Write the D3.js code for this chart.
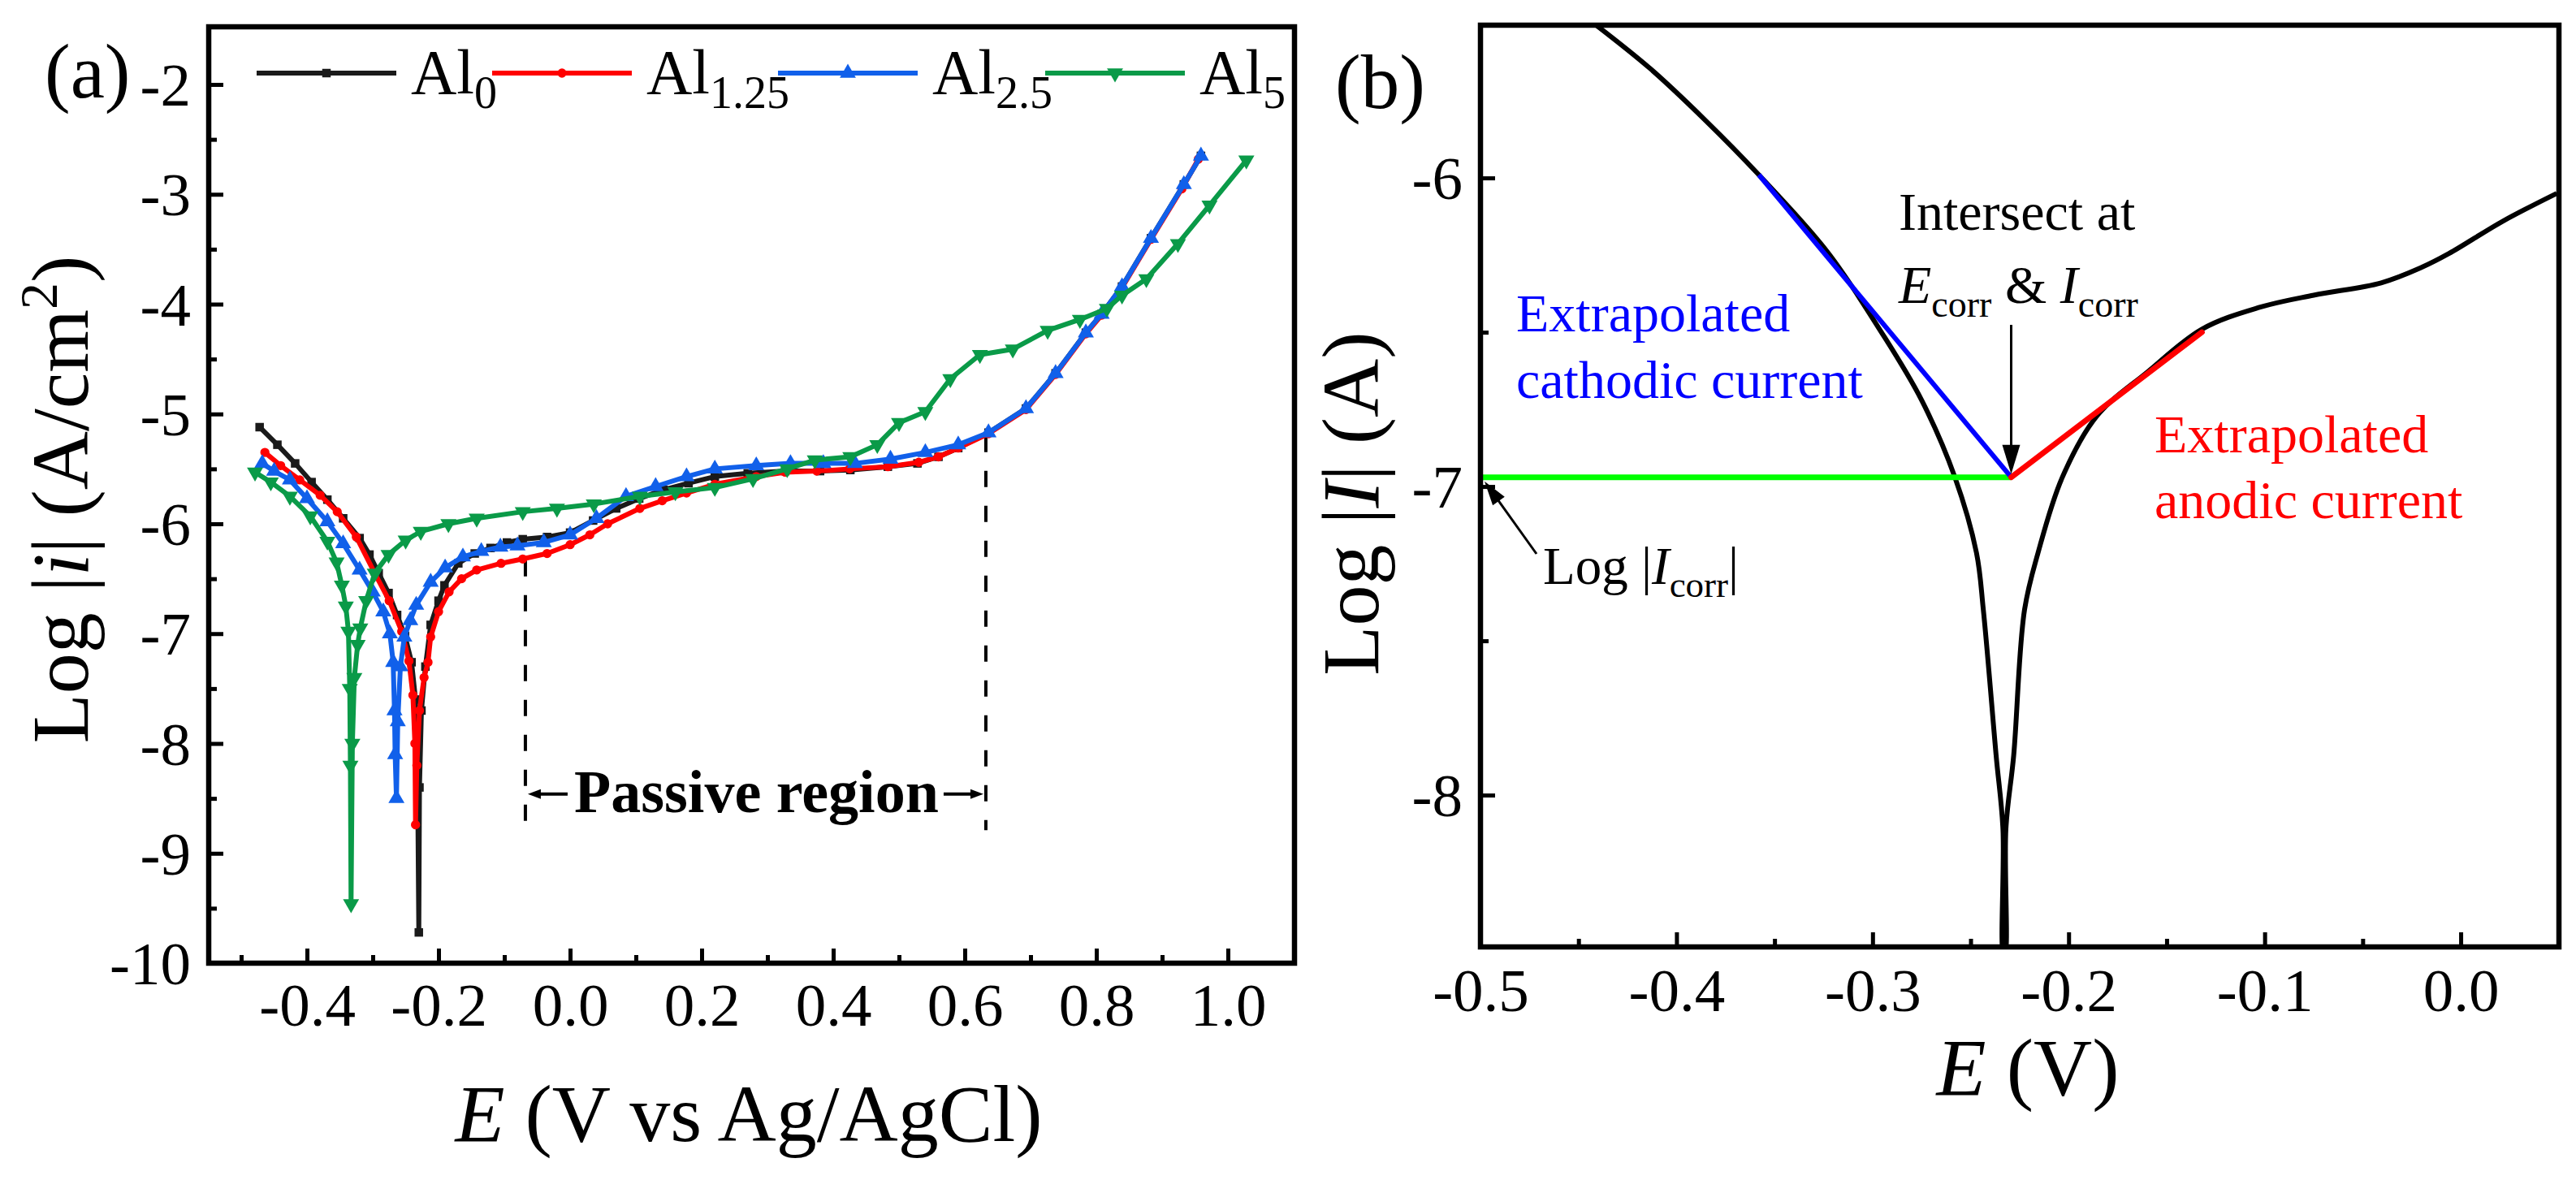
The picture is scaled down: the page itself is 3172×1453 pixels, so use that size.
<!DOCTYPE html>
<html><head><meta charset="utf-8">
<script src="https://cdn.jsdelivr.net/npm/d3@7"></script>
<style>
html,body{margin:0;padding:0;background:#fff;}
svg{display:block;}
text{font-family:"Liberation Serif","Times New Roman",serif;fill:#000;}
</style>
</head><body>
<svg id="c" width="3172" height="1453"></svg>
<script>
// ---------------- Panel (a) data: E (V vs Ag/AgCl) and Log|i| ----------------
const al0E    = [-0.472,-0.445,-0.418,-0.393,-0.369,-0.345,-0.320,-0.305,-0.291,-0.276,-0.263,-0.251,-0.241,-0.235,-0.232,-0.230,-0.229,-0.226,-0.220,-0.212,-0.200,-0.191,-0.170,-0.145,-0.121,-0.096,-0.072,-0.035,0.000,0.035,0.070,0.105,0.142,0.180,0.220,0.270,0.327,0.380,0.426,0.483,0.528,0.560,0.590,0.636,0.693,0.738,0.784,0.808,0.839,0.883,0.933,0.959];
const al0LogI = [-5.12,-5.28,-5.45,-5.62,-5.78,-5.95,-6.13,-6.28,-6.45,-6.63,-6.83,-7.02,-7.26,-7.60,-8.20,-9.72,-8.40,-7.70,-7.30,-6.92,-6.70,-6.56,-6.36,-6.27,-6.22,-6.17,-6.14,-6.12,-6.08,-5.97,-5.86,-5.77,-5.69,-5.63,-5.57,-5.54,-5.52,-5.52,-5.51,-5.48,-5.45,-5.39,-5.31,-5.17,-4.95,-4.63,-4.26,-4.09,-3.84,-3.40,-2.91,-2.65];

const al125E    = [-0.464,-0.440,-0.411,-0.380,-0.354,-0.325,-0.297,-0.275,-0.256,-0.245,-0.239,-0.236,-0.235,-0.233,-0.229,-0.222,-0.216,-0.212,-0.200,-0.184,-0.165,-0.142,-0.105,-0.072,-0.035,0.000,0.030,0.057,0.106,0.140,0.177,0.220,0.283,0.327,0.375,0.425,0.483,0.530,0.560,0.590,0.636,0.693,0.738,0.784,0.808,0.839,0.883,0.930,0.955];
const al125LogI = [-5.35,-5.47,-5.60,-5.74,-5.89,-6.12,-6.45,-6.70,-6.98,-7.25,-7.56,-8.00,-8.74,-8.20,-7.70,-7.40,-7.26,-7.03,-6.80,-6.62,-6.50,-6.42,-6.36,-6.32,-6.27,-6.19,-6.10,-6.00,-5.86,-5.79,-5.72,-5.64,-5.57,-5.53,-5.52,-5.50,-5.48,-5.44,-5.39,-5.31,-5.18,-4.96,-4.64,-4.27,-4.10,-3.85,-3.41,-2.95,-2.68];

const al25E    = [-0.468,-0.450,-0.426,-0.400,-0.369,-0.345,-0.320,-0.300,-0.284,-0.274,-0.269,-0.267,-0.266,-0.264,-0.262,-0.258,-0.252,-0.243,-0.234,-0.212,-0.190,-0.163,-0.135,-0.106,-0.080,-0.040,0.000,0.040,0.085,0.130,0.177,0.220,0.283,0.335,0.385,0.433,0.487,0.540,0.590,0.636,0.693,0.738,0.784,0.808,0.839,0.883,0.933,0.959];
const al25LogI = [-5.45,-5.52,-5.60,-5.77,-5.98,-6.18,-6.42,-6.62,-6.80,-7.00,-7.26,-7.70,-8.10,-8.50,-7.80,-7.30,-7.03,-6.88,-6.74,-6.53,-6.40,-6.30,-6.25,-6.21,-6.20,-6.17,-6.10,-5.95,-5.75,-5.66,-5.57,-5.50,-5.47,-5.45,-5.45,-5.45,-5.41,-5.35,-5.28,-5.17,-4.95,-4.63,-4.26,-4.09,-3.84,-3.40,-2.91,-2.65];

const al5E    = [-0.479,-0.455,-0.426,-0.395,-0.369,-0.355,-0.347,-0.341,-0.337,-0.335,-0.334,-0.333,-0.331,-0.328,-0.323,-0.319,-0.310,-0.297,-0.276,-0.250,-0.227,-0.185,-0.142,-0.072,-0.020,0.036,0.106,0.160,0.220,0.278,0.330,0.372,0.426,0.467,0.500,0.540,0.578,0.623,0.673,0.726,0.775,0.816,0.839,0.876,0.924,0.972,1.028];
const al5LogI = [-5.53,-5.62,-5.75,-5.93,-6.16,-6.35,-6.56,-6.75,-6.98,-7.50,-8.20,-9.46,-8.00,-7.40,-7.10,-6.95,-6.70,-6.45,-6.28,-6.15,-6.07,-6.00,-5.95,-5.89,-5.86,-5.82,-5.75,-5.71,-5.67,-5.59,-5.50,-5.42,-5.39,-5.28,-5.08,-4.98,-4.68,-4.46,-4.41,-4.24,-4.14,-4.04,-3.92,-3.77,-3.45,-3.10,-2.69];

const seriesNames = ["0", "1.25", "2.5", "5"];
const passiveE = [-0.068, 0.632];          // dashed boundary potentials
const passiveTopLogI = [-6.33, -5.20];     // where dashed lines meet the curves
const passiveBottomLogI = -8.79;
const passiveArrowLogI = -8.46;

// axis ticks (a)
const aXMajor = [-0.4,-0.2,0.0,0.2,0.4,0.6,0.8,1.0];
const aXMinor = [-0.5,-0.3,-0.1,0.1,0.3,0.5,0.7,0.9];
const aYMajor = [-2,-3,-4,-5,-6,-7,-8,-9,-10];
const aYMinor = [-2.5,-3.5,-4.5,-5.5,-6.5,-7.5,-8.5,-9.5];

// ---------------- Panel (b) data ----------------
const bE    = [-0.442,-0.413,-0.385,-0.358,-0.323,-0.2955,-0.275,-0.258,-0.247,-0.2435,-0.237,-0.2335,-0.2332,-0.2325,-0.232,-0.228,-0.2225,-0.2156,-0.2032,-0.1854,-0.160,-0.132,-0.103,-0.075,-0.0406,-0.020,-0.006,0.0215,0.049];
const bLogI = [-5.50,-5.648,-5.815,-5.99,-6.24,-6.50,-6.72,-6.97,-7.215,-7.40,-7.87,-8.11,-8.52,-8.52,-8.11,-7.87,-7.40,-7.215,-6.97,-6.77,-6.63,-6.49,-6.42,-6.38,-6.34,-6.29,-6.245,-6.14,-6.05];
const ecorr = -0.2293;
const logIcorr = -6.97;
const cathodicFitStart = [-0.358, -5.99];
const anodicFitEnd = [-0.132, -6.50];
const bXMajor = [-0.5,-0.4,-0.3,-0.2,-0.1,0.0];
const bXMinor = [-0.45,-0.35,-0.25,-0.15,-0.05];
const bYMajor = [-6,-7,-8];
const bYMinor = [-6.5,-7.5];

// ---------------- drawing ----------------
const svg = d3.select("#c");
svg.append("rect").attr("width",3172).attr("height",1453).attr("fill","#fff");
const defs = svg.append("defs");

const xA = d3.scaleLinear().domain([-0.5494, 1.1012]).range([257, 1594]);
const yA = d3.scaleLinear().domain([-1.475, -10]).range([33, 1186]);
const xB = d3.scaleLinear().domain([-0.5, 0.0501]).range([1823, 3151]);
const yB = d3.scaleLinear().domain([-5.505, -8.492]).range([31, 1166]);

function addClip(id, x, y){
  defs.append("clipPath").attr("id", id).append("rect")
    .attr("x", x.range()[0]).attr("y", y.range()[0])
    .attr("width", x.range()[1]-x.range()[0]).attr("height", y.range()[1]-y.range()[0]);
}
addClip("clipA", xA, yA);
addClip("clipB", xB, yB);

function drawAxes(x, y, xMaj, xMin, yMaj, yMin, xfmt, yfmt, xLabY){
  const bottom = y.range()[1], left = x.range()[0];
  const g = svg.append("g");
  const gx = g.append("g").attr("transform", `translate(0,${bottom})`)
    .call(d3.axisBottom(x).tickValues(xMaj).tickSizeInner(-18).tickSizeOuter(0).tickFormat(xfmt));
  const gx2 = g.append("g").attr("transform", `translate(0,${bottom})`)
    .call(d3.axisBottom(x).tickValues(xMin).tickSizeInner(-10).tickSizeOuter(0).tickFormat(""));
  const gy = g.append("g").attr("transform", `translate(${left},0)`)
    .call(d3.axisLeft(y).tickValues(yMaj).tickSizeInner(-18).tickSizeOuter(0).tickFormat(yfmt));
  const gy2 = g.append("g").attr("transform", `translate(${left},0)`)
    .call(d3.axisLeft(y).tickValues(yMin).tickSizeInner(-10).tickSizeOuter(0).tickFormat(""));
  [gx,gx2,gy,gy2].forEach(a=>{
    a.select(".domain").remove();
    a.selectAll("line").attr("stroke","#000").attr("stroke-width",5);
    a.selectAll("text").attr("font-family",'"Liberation Serif","Times New Roman",serif').attr("font-size",75).attr("fill","#000");
  });
  gx.selectAll("text").attr("y", xLabY).attr("dy", 0);
  gy.selectAll("text").attr("x", -22).attr("dy", "0.34em");
  g.append("rect").attr("x", left).attr("y", y.range()[0])
    .attr("width", x.range()[1]-left).attr("height", bottom - y.range()[0])
    .attr("fill","none").attr("stroke","#000").attr("stroke-width",6.5);
}

// ---------- Panel (a) ----------
const colorsA = ["#1a1a1a", "#ff0000", "#1160ea", "#0a9a48"];
const symbolsA = [d3.symbolSquare, d3.symbolCircle, d3.symbolTriangle, d3.symbolTriangle];
const symSizes = [110, 100, 170, 170];
const symRot = [0, 0, 0, 180];
const seriesA = [[al0E, al0LogI],[al125E, al125LogI],[al25E, al25LogI],[al5E, al5LogI]]
  .map((s,i)=>({name: seriesNames[i], pts: s[0].map((e,j)=>[e, s[1][j]]), color: colorsA[i],
                symbol: symbolsA[i], size: symSizes[i], rot: symRot[i]}));

const lineA = d3.line().x(d=>xA(d[0])).y(d=>yA(d[1]));
const plotA = svg.append("g").attr("clip-path","url(#clipA)");

// passive region dashed lines
passiveE.forEach((e,i)=>{
  plotA.append("line").attr("x1", xA(e)).attr("x2", xA(e))
    .attr("y1", yA(passiveTopLogI[i])).attr("y2", yA(passiveBottomLogI))
    .attr("stroke","#000").attr("stroke-width",4).attr("stroke-dasharray","20,23");
});

seriesA.forEach(s=>{
  plotA.append("path").attr("d", lineA(s.pts)).attr("fill","none")
    .attr("stroke", s.color).attr("stroke-width",6).attr("stroke-linejoin","round");
  plotA.append("g").selectAll("path").data(s.pts).join("path")
    .attr("d", d3.symbol().type(s.symbol).size(s.size))
    .attr("transform", d=>`translate(${xA(d[0])},${yA(d[1])}) rotate(${s.rot})`)
    .attr("fill", s.color);
});

drawAxes(xA, yA, aXMajor, aXMinor, aYMajor, aYMinor, d=>d.toFixed(1), d=>String(d), 77);

// passive region label and arrows
const pY = yA(passiveArrowLogI);
const pL = xA(passiveE[0]), pR = xA(passiveE[1]);
svg.append("text").attr("x", (pL+pR)/2 + 1).attr("y", yA(passiveArrowLogI)+22)
  .attr("text-anchor","middle").attr("font-size",74).attr("font-weight","bold").text("Passive region");
function arrow(x1,y1,x2,y2,len,wid,sw){
  const a = Math.atan2(y2-y1, x2-x1);
  const bx = x2 - len*Math.cos(a), by = y2 - len*Math.sin(a);
  svg.append("line").attr("x1",x1).attr("y1",y1).attr("x2",bx+ (len*0.3)*Math.cos(a)).attr("y2",by+(len*0.3)*Math.sin(a))
    .attr("stroke","#000").attr("stroke-width",sw);
  const px = -Math.sin(a)*wid/2, py = Math.cos(a)*wid/2;
  svg.append("path").attr("d", `M${x2},${y2}L${bx+px},${by+py}L${bx-px},${by-py}Z`).attr("fill","#000");
}
arrow(pL+52, pY, pL+3, pY, 16, 12, 4);
arrow(pR-52, pY, pR-3, pY, 16, 12, 4);

// legend (a)
const legX = [316, 606, 958, 1287];
const legLen = 172, legY = 90;
seriesA.forEach((s,i)=>{
  const g = svg.append("g");
  g.append("line").attr("x1", legX[i]).attr("x2", legX[i]+legLen).attr("y1",legY).attr("y2",legY)
    .attr("stroke", s.color).attr("stroke-width",6);
  g.append("path").attr("d", d3.symbol().type(s.symbol).size(s.size))
    .attr("transform", `translate(${legX[i]+legLen/2},${legY}) rotate(${s.rot})`).attr("fill", s.color);
  const t = g.append("text").attr("x", legX[i]+legLen+18).attr("y", 115).attr("font-size",78);
  t.append("tspan").text("Al");
  t.append("tspan").attr("font-size",56).attr("dy",18).text(s.name);
});

// axis titles (a)
const ta = svg.append("text").attr("text-anchor","middle").attr("font-size",100)
  .attr("transform","translate(108,615) rotate(-90)");
ta.append("tspan").text("Log |");
ta.append("tspan").attr("font-style","italic").text("i");
ta.append("tspan").text("| (A/cm");
ta.append("tspan").attr("font-size",66).attr("dy",-38).text("2");
ta.append("tspan").attr("dy",38).text(")");

const txa = svg.append("text").attr("x",922).attr("y",1405).attr("text-anchor","middle").attr("font-size",100);
txa.append("tspan").attr("font-style","italic").text("E");
txa.append("tspan").text(" (V vs Ag/AgCl)");

svg.append("text").attr("x",55).attr("y",120).attr("font-size",95).text("(a)");

// ---------- Panel (b) ----------
const lineB = d3.line().x(d=>xB(d[0])).y(d=>yB(d[1])).curve(d3.curveCatmullRom.alpha(0.5));
const plotB = svg.append("g").attr("clip-path","url(#clipB)");
const bPts = bE.map((e,i)=>[e, bLogI[i]]);
plotB.append("path").attr("d", lineB(bPts)).attr("fill","none").attr("stroke","#000")
  .attr("stroke-width",6).attr("stroke-linejoin","round");

const straight = d3.line().x(d=>xB(d[0])).y(d=>yB(d[1]));
plotB.append("path").attr("d", straight([[-0.5, logIcorr],[ecorr, logIcorr]]))
  .attr("stroke","#00ff00").attr("stroke-width",7).attr("fill","none");
plotB.append("path").attr("d", straight([cathodicFitStart,[ecorr, logIcorr]]))
  .attr("stroke","#0000ff").attr("stroke-width",6).attr("fill","none");
plotB.append("path").attr("d", straight([[ecorr, logIcorr], anodicFitEnd]))
  .attr("stroke","#ff0000").attr("stroke-width",7).attr("fill","none").attr("stroke-linecap","round");

drawAxes(xB, yB, bXMajor, bXMinor, bYMajor, bYMinor, d=>d.toFixed(1), d=>String(d), 79);

// annotations (b)
arrow(xB(ecorr), 400, xB(ecorr), yB(logIcorr)-4, 36, 22, 3);
arrow(1892, 682, xB(-0.5)+5, yB(logIcorr)+5, 30, 18, 3);

svg.append("text").attr("x",2338).attr("y",283).attr("font-size",66).text("Intersect at");
const ti = svg.append("text").attr("x",2338).attr("y",373).attr("font-size",66);
ti.append("tspan").attr("font-style","italic").text("E");
ti.append("tspan").attr("font-size",46).attr("dy",17).text("corr");
ti.append("tspan").attr("dy",-17).text(" & ");
ti.append("tspan").attr("font-style","italic").text("I");
ti.append("tspan").attr("font-size",46).attr("dy",17).text("corr");

const tc = svg.append("text").attr("font-size",66).style("fill","#0000ff");
tc.append("tspan").attr("x",1867).attr("y",408).text("Extrapolated");
tc.append("tspan").attr("x",1867).attr("y",490).text("cathodic current");

const tn = svg.append("text").attr("font-size",66).style("fill","#ff0000");
tn.append("tspan").attr("x",2653).attr("y",557).text("Extrapolated");
tn.append("tspan").attr("x",2653).attr("y",638).text("anodic current");

const tl = svg.append("text").attr("x",1900).attr("y",719).attr("font-size",65);
tl.append("tspan").text("Log |");
tl.append("tspan").attr("font-style","italic").text("I");
tl.append("tspan").attr("font-size",45).attr("dy",16).text("corr");
tl.append("tspan").attr("dy",-16).text("|");

const tyb = svg.append("text").attr("text-anchor","middle").attr("font-size",100)
  .attr("transform","translate(1697,620) rotate(-90)");
tyb.append("tspan").text("Log |");
tyb.append("tspan").attr("font-style","italic").text("I");
tyb.append("tspan").text("| (A)");

const txb = svg.append("text").attr("x",2497).attr("y",1348).attr("text-anchor","middle").attr("font-size",100);
txb.append("tspan").attr("font-style","italic").text("E");
txb.append("tspan").text(" (V)");

svg.append("text").attr("x",1644).attr("y",133).attr("font-size",95).text("(b)");
</script>
</body></html>
